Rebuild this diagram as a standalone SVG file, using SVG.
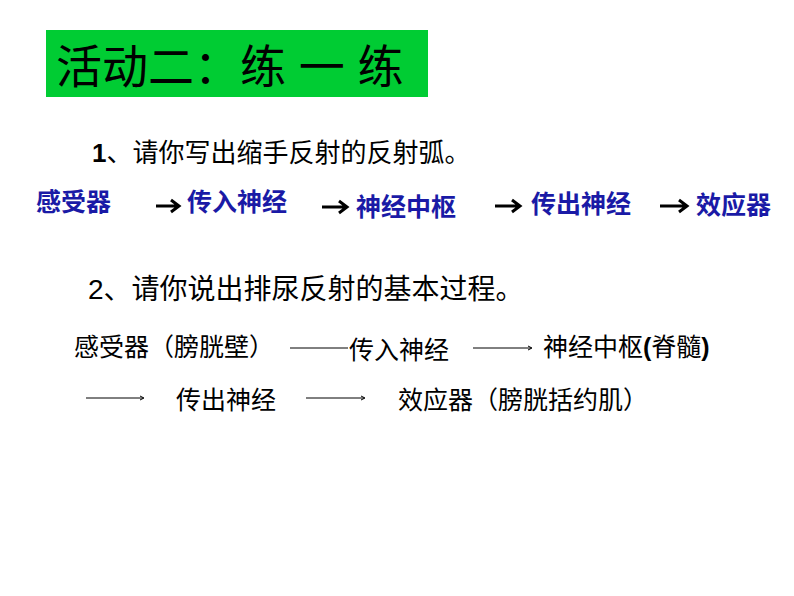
<svg xmlns="http://www.w3.org/2000/svg" width="794" height="596" viewBox="0 0 794 596">
<style>
.t{font-family:"Liberation Sans","Noto Sans CJK SC",sans-serif;}
.b{fill:#1a1aa6;font-size:25px;font-weight:bold}
.k{fill:#000;font-size:25px}
.a{stroke:#000;stroke-width:3;fill:none}
.l{stroke:#000;stroke-width:1;fill:none}
</style>
<rect width="794" height="596" fill="#fff"/>
<g id="title"><rect x="46" y="30" width="382" height="67" fill="#00cc33"/>
<text class="t" x="56" y="83" font-size="46" fill="#000">活动二：练 一 练</text></g>
<text class="t" x="92" y="162" font-size="26" fill="#000"><tspan font-weight="bold">1</tspan>、请你写出缩手反射的反射弧。</text>
<g id="n1"><text class="t b" x="36" y="211">感受器</text></g>
<g id="n2"><text class="t b" x="187" y="211">传入神经</text></g>
<g id="n3"><text class="t b" x="356" y="216">神经中枢</text></g>
<g id="n4"><text class="t b" x="531" y="213">传出神经</text></g>
<g id="n5"><text class="t b" x="696" y="214">效应器</text></g>
<g id="connectors">
<path class="a" d="M156 206H178M171 200L179 206L171 212"/>
<path class="a" d="M322 207H346M339 201L347 207L339 213"/>
<path class="a" d="M495 206H519M512 200L520 206L512 212"/>
<path class="a" d="M660 206H686M679 200L687 206L679 212"/>
<path class="l" d="M290 348H348"/>
<path class="l" d="M473 348H531M528 346L532 348L528 350"/>
<path class="l" d="M86 398H143M140 396L144 398L140 400"/>
<path class="l" d="M306 398H364M361 396L365 398L361 400"/>
</g>
<text class="t" x="88" y="299" font-size="28" fill="#000">2、请你说出排尿反射的基本过程。</text>
<g id="m1"><text class="t k" x="74" y="356">感受器（膀胱壁）</text></g>
<g id="m2"><text class="t k" x="349" y="359">传入神经</text></g>
<g id="m3"><text class="t k" x="543" y="356">神经中枢<tspan font-weight="bold">(</tspan>脊髓<tspan font-weight="bold">)</tspan></text></g>
<g id="m4"><text class="t k" x="176" y="409">传出神经</text></g>
<g id="m5"><text class="t k" x="398" y="409">效应器（膀胱括约肌）</text></g>
</svg>
